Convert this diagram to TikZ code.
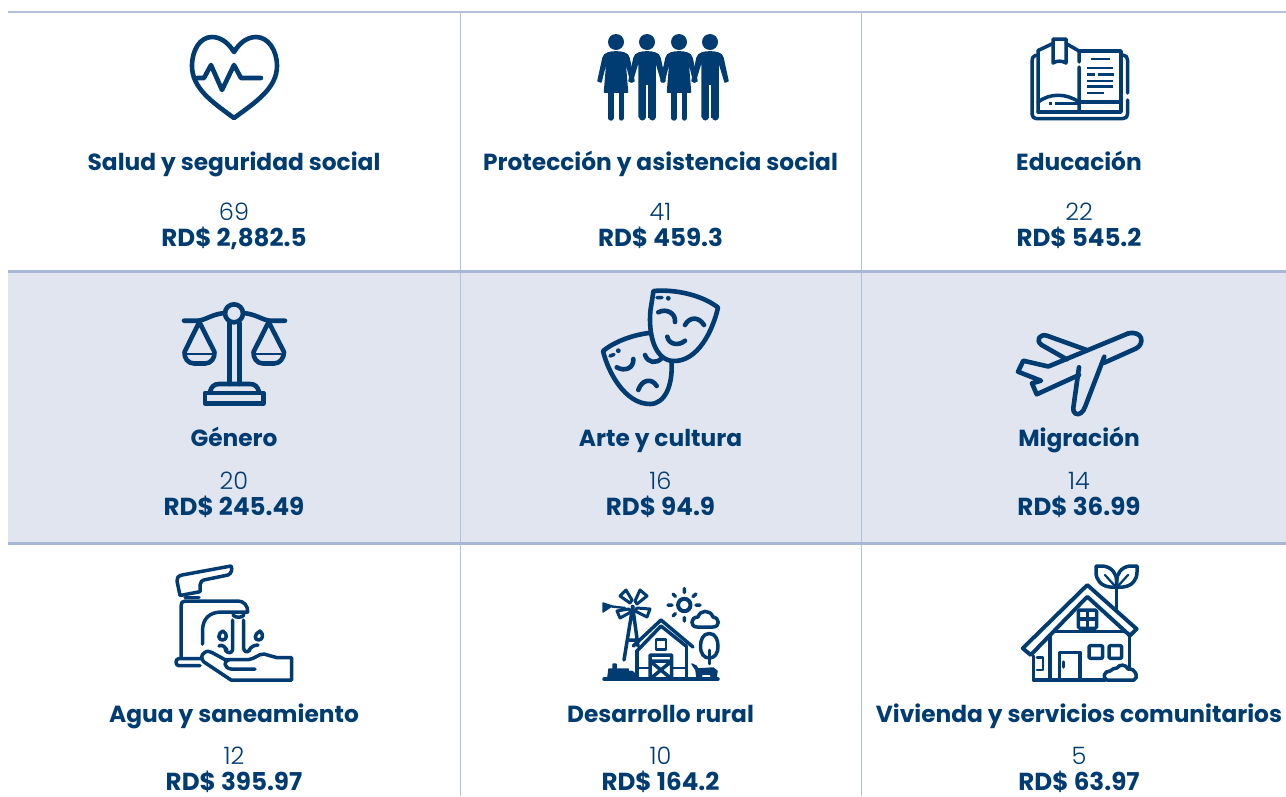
\documentclass[tikz,border=0pt]{standalone}
\usepackage{fontspec}
\setmainfont{Poppins}[BoldFont={Poppins Bold}]
\newfontfamily\lightf{Poppins Light}
\definecolor{navy}{HTML}{003C71}
\definecolor{rowfill}{HTML}{E0E5F0}
\definecolor{rowline}{HTML}{A8B7D6}
\definecolor{colline}{HTML}{B4C0D8}
\tikzset{
 ico/.style={draw=navy,line width=4.6pt,line cap=round,line join=round},
 thin ico/.style={draw=navy,line width=3.5pt,line cap=round,line join=round},
 solid ico/.style={fill=navy,draw=navy,line width=1.5pt,line join=round},
 title/.style={anchor=base,text=navy,inner sep=0pt,font=\bfseries\fontsize{23.3}{26}\selectfont},
 count/.style={anchor=base,text=navy,inner sep=0pt,font=\lightf\fontsize{24}{26}\selectfont},
 money/.style={anchor=base,text=navy,inner sep=0pt,font=\bfseries\fontsize{24.6}{26}\selectfont},
 woman/.pic={
  \fill[navy] (0,42) ellipse (8 and 8);
  \path[solid ico] (-8,53) .. controls (-4,51.5) and (4,51.5) .. (8,53) .. controls (11,54) and (12,55) .. (13,58) -- (18,81) -- (15,82) -- (10,62) -- (9,62) -- (11.5,92) -- (-11.5,92) -- (-9,62) -- (-10,62) -- (-15,82) -- (-18,81) -- (-13,58) .. controls (-12,55) and (-11,54) .. (-8,53) -- cycle;
  \draw[navy,line width=5.4pt,line cap=round] (-5.2,92) -- (-5.2,118) (5.2,92) -- (5.2,118);
 },
 man/.pic={
  \fill[navy] (0,42) ellipse (8 and 8);
  \path[solid ico] (-8,53) .. controls (-4,51.5) and (4,51.5) .. (8,53) .. controls (11,54) and (12,55) .. (13,58) -- (18,81) -- (15,82) -- (9,62) -- (8,62) -- (8,117) -- (-8,117) -- (-8,62) -- (-9,62) -- (-15,82) -- (-18,81) -- (-13,58) .. controls (-12,55) and (-11,54) .. (-8,53) -- cycle;
  \draw[navy,line width=7pt,line cap=round] (-5,114) -- (-5,117) (5,114) -- (5,117);
  \draw[white,line width=1.8pt,line cap=butt] (0,85) -- (0,122);
 },
}
\begin{document}
\begin{tikzpicture}[x=1pt,y=-1pt]
\useasboundingbox (0,0) rectangle (1286,796);
\fill[white] (0,0) rectangle (1286,796);
\fill[rowfill] (8,272) rectangle (1286,543);
\draw[colline,line width=1.8pt] (460.5,12) -- (460.5,796) (861.5,12) -- (861.5,796);
\draw[colline,line width=1.6pt] (8,12) -- (1286,12);
\draw[rowline,line width=3pt] (8,271.5) -- (1286,271.5) (8,543) -- (1286,543);

% heart
\draw[ico] (234,52) .. controls (228,42) and (220,37) .. (212,37) .. controls (200,37) and (192,50) .. (192,66) .. controls (192,88) and (212,102) .. (234,118) .. controls (256,102) and (277,88) .. (277,66) .. controls (277,50) and (268,37) .. (256,37) .. controls (248,37) and (240,42) .. (234,52) -- cycle;
\draw[ico] (197,78) -- (204,78) -- (211,65) -- (222,90) -- (234,65) -- (241,78) -- (261,78);

% people
\pic at (616,0) {woman};
\pic at (647,0) {man};
\pic at (679,0) {woman};
\pic at (710,0) {man};

% book
\draw[thin ico] (1036,55) .. controls (1033,56) and (1032,58) .. (1032,61) -- (1032,114) .. controls (1032,117) and (1034,118.5) .. (1036,118.5) -- (1123,118.5) .. controls (1126,118.5) and (1127.5,117) .. (1127.5,114) -- (1127.5,100);
\draw[thin ico] (1127.5,93) -- (1127.5,60) .. controls (1127.5,57) and (1126,55.5) .. (1123,55);
\draw[thin ico] (1038,112) -- (1038,50.5) -- (1053,43.5) (1066,43.5) -- (1079,51) -- (1079,62) (1079,67) -- (1079,112);
\draw[thin ico] (1053,39) -- (1066,39) -- (1066,63) .. controls (1062,60.5) and (1057,60.5) .. (1053,63) -- cycle;
\draw[thin ico] (1079,51) -- (1121,51) -- (1121,112) -- (1038,112);
\draw[thin ico] (1079,102) -- (1121,102);
\draw[thin ico] (1038,102) .. controls (1050,93) and (1066,93) .. (1079,102);
\draw[thin ico,line cap=butt,line width=2.6pt] (1055,103.5) -- (1079,103.5) (1049,103.5) -- (1052,103.5);
\draw[thin ico,line cap=butt,line width=2.6pt] (1091,59) -- (1110,59) (1087,68) -- (1113,68) (1087,74.5) -- (1095,74.5) (1098,74.5) -- (1114,74.5) (1087,81) -- (1113,81) (1087,86.5) -- (1113,86.5) (1087,93) -- (1104,93);

% scales
\draw[ico] (234,313.3) circle (9);
\draw[ico] (184,320.7) -- (198,320.7) .. controls (206,320) and (212,314) .. (225,313);
\draw[ico] (285,320.7) -- (270,320.7) .. controls (262,320) and (256,314) .. (243,313);
\draw[ico] (229.3,323) -- (229.3,384) (239.3,323) -- (239.3,384);
\draw[ico] (210,392) .. controls (211,387) and (214,384) .. (219,384) -- (250,384) .. controls (255,384) and (258,387) .. (259,392);
\draw[ico] (205,393) -- (263.3,393) -- (263.3,403.5) -- (205,403.5) -- cycle;
\draw[ico] (199.3,322) -- (184.5,352) .. controls (184,358) and (188,363.5) .. (194,363.5) -- (205,363.5) .. controls (211,363.5) and (215,358) .. (214.5,352) -- cycle;
\draw[ico] (268.7,322) -- (253.5,352) .. controls (253,358) and (257,363.5) .. (263,363.5) -- (274,363.5) .. controls (280,363.5) and (284,358) .. (284,352) -- cycle;
\draw[thin ico,line width=2.2pt] (187,354) -- (212,354) (256,354) -- (281,354);

% masks
\draw[ico] (653.5,291) .. controls (675,289) and (702,295) .. (718,307.5) .. controls (713,330) and (698,362) .. (673,361) .. controls (655,360) and (648,335) .. (650.5,310) -- cycle;
\draw[ico] (649,333) .. controls (632,335) and (614,342) .. (603,351) .. controls (608,372) and (625,404) .. (650,404) .. controls (665,404) and (673,385) .. (671.5,362);
\fill[navy] (668.3,298.3) circle (2.4) (618.3,350.7) circle (2.4);
\draw[thin ico] (657,297.5) -- (662,297.5) (610,356) -- (614,354.5);
\draw[ico] (658.3,312.3) .. controls (666,308) and (676,313) .. (675,322);
\draw[ico] (685,325) .. controls (690,316) and (699,317) .. (704,325);
\draw[ico] (667.3,336.7) .. controls (669,345) and (679,346) .. (685,340.7);
\draw[ico] (616.7,367.3) .. controls (625,372) and (634,368) .. (633.3,359);
\draw[ico] (645,355) .. controls (648,363) and (656,364) .. (661.7,358.3);
\draw[ico] (638.3,390) .. controls (642,379) and (652,378) .. (656.7,386);

% plane
\draw[ico] (1128,333.5) -- (1048.3,366.5) -- (1023.3,360.7) -- (1018,371.7) -- (1041,380.7) -- (1032,383.3) -- (1036.7,394.3) -- (1079,375);
\draw[ico] (1079,367.3) -- (1073.3,408) .. controls (1072.5,413) and (1077,416) .. (1081,413) .. controls (1083,411) and (1084,410) .. (1085,407) -- (1104.3,356.7);
\draw[ico] (1104.3,362.7) -- (1136,348.5) .. controls (1145,344) and (1143,330) .. (1128,333.5);
\draw[ico] (1086.7,350) -- (1047,335.7) .. controls (1040,333.5) and (1035,340) .. (1041.7,345) -- (1066.7,359.3);

% faucet
\draw[thin ico] (180,595.5) -- (177,581) .. controls (176.5,578) and (178,576) .. (182,575) -- (231,566) .. controls (233,569) and (231,574) .. (228,575) -- (206,579.5) .. controls (202,580) and (200,582) .. (200,585) -- (200,591.7) -- cycle;
\draw[thin ico] (185,597.5) -- (199,597.5);
\draw[thin ico] (181,658) -- (181,606) .. controls (181,603) and (182,601) .. (185,601) -- (238,601) .. controls (244,601) and (248,606) .. (247.7,612) -- (222,612) .. controls (210,612) and (203,618) .. (202.5,630) -- (202.5,644);
\draw[thin ico] (233,615) .. controls (235,618) and (242,618) .. (244,615);
\draw[thin ico] (232.5,620) -- (232.5,650) (243.5,620) -- (243.5,647) .. controls (243.5,652) and (247,653) .. (250,650) (232.5,650) .. controls (232,653) and (228,654) .. (225,650);
\draw[thin ico] (219,646) .. controls (222,644) and (225,647) .. (227,650);
\draw[thin ico] (258,645) .. controls (254,645) and (251,647) .. (249,650);
\draw[thin ico] (223,631) .. controls (228,634) and (227,640) .. (222.5,640) .. controls (218,640) and (217,634) .. (223,631) -- cycle;
\draw[thin ico] (260,631) .. controls (264,634) and (263,640) .. (258.5,640) .. controls (254,640) and (254,634) .. (260,631) -- cycle;
\draw[thin ico] (200,665.7) -- (179,665.7) .. controls (175,665.7) and (175,658.5) .. (179,658.5) -- (201,658.5);
\draw[thin ico] (291.7,657.7) -- (291.7,680) -- (231,680) -- (204,662) .. controls (201,659) and (201,655) .. (204,653) .. controls (207,650.5) and (209,651) .. (212,652.5) -- (225,659.7) -- (248,659.7) .. controls (255,659) and (258,654) .. (264,654) -- (277,657.7) -- cycle;
\draw[thin ico] (255,669) -- (231,669) .. controls (224,668) and (223,661) .. (229,659.7);

% farm
\draw[thin ico] (604,679) -- (718,679);
\draw[thin ico] (633.3,646) -- (661,620) -- (693,647);
\draw[thin ico] (637,651) -- (661,626) -- (686,646);
\draw[thin ico] (637,651) -- (637,679) (686.7,646) -- (686.7,679);
\draw[thin ico,line width=2.8pt] (656,639.3) rectangle (666,649.3);
\draw[thin ico] (650,679) -- (650,655) -- (671.7,655) -- (671.7,679) (650,661) -- (671.7,661) (650,661) -- (671.7,679) (671.7,661) -- (650,679);
\draw[thin ico,line width=2.5pt] (637,668) -- (650,668) (671.7,668) -- (686.7,668);
\draw[thin ico] (632.7,607) -- (624,660) (632.7,607) -- (638,646) (627,640) -- (636,640);
\fill[navy] (632.7,606.7) circle (2);
\draw[thin ico,line width=3pt,fill=white] (630,603) -- (620,596) -- (626,590) -- (632,600) -- cycle;
\draw[thin ico,line width=3pt,fill=white] (635,601) -- (640,590) -- (647,596) -- (637,604) -- cycle;
\draw[thin ico,line width=3pt,fill=white] (637,608) -- (650,609) -- (647,617) -- (635,611) -- cycle;
\draw[thin ico,line width=3pt,fill=white] (629,609) -- (617,611) -- (620,618) -- (631,612) -- cycle;
\path[solid ico] (603,603) -- (612,606) -- (603,612) -- cycle;
\draw[thin ico,line width=2.4pt] (612,606.5) -- (625,608);
\path[solid ico] (609,669) -- (613,669) -- (613,664) -- (616,664) -- (616,669) -- (628,669) -- (630,677) -- (608,677) -- cycle;
\fill[navy] (611,677) circle (3.5) (631,675) circle (4.5);
\draw[ico,line width=4pt] (684.3,605) circle (6.2);
\draw[thin ico] (684.3,588.5) -- (684.3,592.5) (684.3,617.5) -- (684.3,621) (668,605) -- (672,605) (696,605) -- (700,605) (673,594) -- (675.5,596.5) (696,594) -- (693,596.5) (673,616) -- (675.5,613.5);
\draw[thin ico] (697,627) .. controls (690,627) and (690,617) .. (698,617) .. controls (700,610) and (710,609) .. (713,617) .. controls (720,618) and (720,627) .. (713,627) -- cycle;
\draw[thin ico] (709.3,633.5) .. controls (703,633.5) and (700.5,640) .. (700.5,646) .. controls (700.5,654) and (704,658) .. (709.3,658) .. controls (714.5,658) and (718,654) .. (718,646) .. controls (718,640) and (715.5,633.5) .. (709.3,633.5) -- cycle;
\draw[thin ico,line width=2.8pt] (709.3,650) -- (709.3,664);
\path[solid ico] (692,664) -- (696,666) -- (698,669) -- (713,668) -- (717,671) -- (716,678) -- (712,678) -- (710,674) -- (702,674) -- (701,678) -- (697,678) -- (696,670) -- cycle;

% house
\draw[ico,line width=3.9pt] (1087.3,585) -- (1136.7,629) -- (1130,635.7) -- (1087.3,596.7) -- (1030.7,655) -- (1022.7,648.3) -- cycle;
\draw[thin ico] (1050,636) -- (1050,680) (1129.3,634) -- (1129.3,668) (1054,631.7) -- (1125,631.7);
\draw[thin ico,rounded corners=1.5pt] (1078.3,610) rectangle (1096.7,628.3);
\draw[thin ico,line cap=butt] (1087.5,610) -- (1087.5,628) (1078.5,619) -- (1096.5,619);
\draw[thin ico] (1116.7,609) -- (1116.7,587);
\draw[thin ico] (1096,566) -- (1103,566) .. controls (1112,567) and (1116.7,574) .. (1116.7,581) -- (1116.7,587) -- (1110,587) .. controls (1101,586) and (1096,580) .. (1096,572) -- cycle;
\draw[thin ico] (1137,566) -- (1130,566) .. controls (1121,567) and (1116.7,574) .. (1116.7,581) -- (1116.7,587) -- (1123,587) .. controls (1132,586) and (1137,580) .. (1137,572) -- cycle;
\draw[thin ico,line width=2.2pt] (1105,575) -- (1115,586) (1128,575) -- (1118,586);
\draw[thin ico] (1033.3,656) -- (1033.3,680) -- (1105,680);
\draw[thin ico,line width=2.8pt] (1037,657.5) -- (1043,657.5) -- (1043,670) -- (1037,670);
\draw[thin ico] (1059.3,680) -- (1059.3,652.3) -- (1080,652.3) -- (1080,680) (1063.5,662) -- (1063.5,667);
\draw[thin ico,rounded corners=1.2pt] (1089,645.7) rectangle (1102.7,658.3);
\draw[thin ico,rounded corners=1.2pt] (1109,645.7) rectangle (1121.7,658.3);
\draw[thin ico] (1107,680) .. controls (1102,678) and (1104,671) .. (1110,671) .. controls (1113,669) and (1114,668) .. (1117,668) .. controls (1119,664) and (1126,664) .. (1128,669) .. controls (1136,668) and (1139,678) .. (1134,680) -- cycle;

% texts
\node[title] (t1) at (234,170.5) {Salud y seguridad social};
\node[title] (t2) at (660.5,170.5) {Protección y asistencia social};
\node[title] (t3) at (1079,170.5) {Educación};
\node[title] (t4) at (234,446.5) {Género};
\node[title] (t5) at (660.5,446.5) {Arte y cultura};
\node[title] (t6) at (1079,446.5) {Migración};
\node[title] (t7) at (234,722.5) {Agua y saneamiento};
\node[title] (t8) at (660.5,722.5) {Desarrollo rural};
\node[title] (t9) at (1079,722.5) {Vivienda y servicios comunitarios};
\node[count] (c1) at (234,220) {69};
\node[count] (c2) at (660.5,220) {41};
\node[count] (c3) at (1079,220) {22};
\node[count] (c4) at (234,489) {20};
\node[count] (c5) at (660.5,489) {16};
\node[count] (c6) at (1079,489) {14};
\node[count] (c7) at (234,764.5) {12};
\node[count] (c8) at (660.5,764.5) {10};
\node[count] (c9) at (1079,764.5) {5};
\node[money] (m1) at (234,246.5) {RD\$ 2,882.5};
\node[money] (m2) at (660.5,246.5) {RD\$ 459.3};
\node[money] (m3) at (1079,246.5) {RD\$ 545.2};
\node[money] (m4) at (234,515) {RD\$ 245.49};
\node[money] (m5) at (660.5,515) {RD\$ 94.9};
\node[money] (m6) at (1079,515) {RD\$ 36.99};
\node[money] (m7) at (234,790) {RD\$ 395.97};
\node[money] (m8) at (660.5,790) {RD\$ 164.2};
\node[money] (m9) at (1079,790) {RD\$ 63.97};
\end{tikzpicture}
\end{document}
